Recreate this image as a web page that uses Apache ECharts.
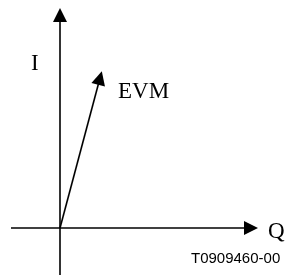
<!DOCTYPE html>
<html>
<head>
<meta charset="utf-8">
<script src="https://cdn.jsdelivr.net/npm/echarts@6/dist/echarts.min.js"></script>
<style>html,body{margin:0;padding:0;background:#fff}#c{width:285px;height:278px}</style>
</head>
<body>
<div id="c"></div>
<script>
// Vector diagram data (Q horizontal, I vertical), origin at (0,0)
// line end points: the arrowhead symbol is centred on them
const axisQ = [-49, 191];     // Q axis extent
const axisI = [-47, 213];     // I axis extent
const evmVector = [40, 150];  // EVM vector components [Q, I]
const labels = { i: 'I', q: 'Q', evm: 'EVM', code: 'T0909460-00' };

const chart = echarts.init(document.getElementById('c'), null, { renderer: 'canvas' });
const serif = '"Liberation Serif", "Times New Roman", serif';
chart.setOption({
  animation: false,
  backgroundColor: '#fff',
  grid: { left: 0, right: 0, top: 0, bottom: 0 },
  xAxis: { type: 'value', min: -60, max: 225, show: false },
  yAxis: { type: 'value', min: -50, max: 228, show: false },
  series: [{
    type: 'lines',
    coordinateSystem: 'cartesian2d',
    symbol: ['none', 'triangle'],
    symbolSize: [13, 14],
    lineStyle: { color: '#000', width: 1.6, opacity: 1 },
    itemStyle: { color: '#000' },
    silent: true,
    data: [
      { coords: [[axisQ[0], 0], [axisQ[1], 0]] },
      { coords: [[0, axisI[0]], [0, axisI[1]]] },
      { coords: [[0, 0], evmVector] }
    ]
  }],
  graphic: [
    { type: 'text', style: { x: 31, y: 52, text: labels.i, font: '23px ' + serif, fill: '#000' } },
    { type: 'text', style: { x: 118, y: 80, text: labels.evm, font: '23px ' + serif, fill: '#000' } },
    { type: 'text', style: { x: 268, y: 220, text: labels.q, font: '23px ' + serif, fill: '#000' } },
    { type: 'text', style: { x: 191, y: 251, text: labels.code, font: '15px "Liberation Sans", Arial, sans-serif', fill: '#000' } }
  ]
});
</script>
</body>
</html>
